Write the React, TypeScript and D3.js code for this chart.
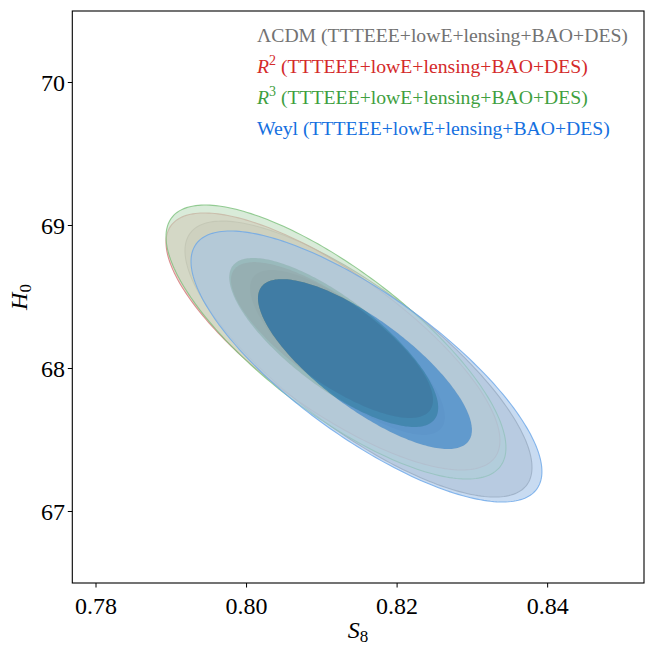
import React from 'react';
import * as d3 from 'd3';

const W = 645;
const H = 646;
const plot = { left: 72.3, right: 644, top: 11, bottom: 583 };

const xDomain = [0.77685, 0.8528];
const yDomain = [66.5, 70.5];
const xTicks = [0.78, 0.8, 0.82, 0.84];
const yTicks = [67, 68, 69, 70];

// Models, drawn in this order (last on top)
const models = ['LCDM', 'R2', 'R3', 'Weyl'];
const legendSuffix = ' (TTTEEE+lowE+lensing+BAO+DES)';
const textColors = ['#727272', '#d42a2a', '#3f9f3f', '#1570e0'];
const darkFill = ['#646464', '#c83c3c', '#50a050', '#1975d7'];
const lightFill = ['#bebebe', '#ebafaf', '#c0dec0', '#a3c3e8'];
const lineColors = ['#8a8a8a', '#d27a7a', '#7cc07c', '#6aa6e8'];

// Credible-region ellipses: model, level, centre (S8, H0), half-extent (S8, H0), correlation
const contourModel = ['LCDM', 'LCDM', 'R2', 'R2', 'R3', 'R3', 'Weyl', 'Weyl'];
const contourLevel = [95, 68, 95, 68, 95, 68, 95, 68];
const centreS8 = [0.81487, 0.81341, 0.81148, 0.81135, 0.81188, 0.81158, 0.81593, 0.81573];
const centreH0 = [68.066, 68.112, 68.189, 68.199, 68.185, 68.182, 68.014, 68.031];
const spanS8 = [0.02305, 0.01295, 0.02218, 0.01342, 0.02258, 0.01388, 0.02331, 0.01421];
const spanH0 = [0.965, 0.577, 0.8986, 0.545, 0.958, 0.591, 0.9476, 0.594];
const corr = [-0.785, -0.78, -0.77, -0.77, -0.77, -0.77, -0.775, -0.775];

const x = d3.scaleLinear().domain(xDomain).range([plot.left, plot.right]);
const y = d3.scaleLinear().domain(yDomain).range([plot.bottom, plot.top]);

const N = 240;
function ellipsePoints(i: number): [number, number][] {
  const r = corr[i];
  const q = Math.sqrt(1 - r * r);
  return d3.range(N).map((k) => {
    const t = (2 * Math.PI * k) / N;
    const s8 = centreS8[i] + spanS8[i] * Math.cos(t);
    const h0 = centreH0[i] + spanH0[i] * (r * Math.cos(t) + q * Math.sin(t));
    return [s8, h0];
  });
}

const line = d3
  .line<[number, number]>()
  .x((d) => x(d[0]))
  .y((d) => y(d[1]))
  .curve(d3.curveLinearClosed);

function findContour(m: string, level: number) {
  return contourModel.findIndex((c, i) => c === m && contourLevel[i] === level);
}

const serif = '"Liberation Serif", "Times New Roman", Times, serif';

export default function App() {
  return (
    <svg width={W} height={H} style={{ display: 'block', position: 'absolute', left: 0, top: 0 }}>
      <rect width={W} height={H} fill="#ffffff" />
      <defs>
        <clipPath id="plotArea">
          <rect x={plot.left} y={plot.top} width={plot.right - plot.left} height={plot.bottom - plot.top} />
        </clipPath>
      </defs>
      <g clipPath="url(#plotArea)">
        {models.map((m, mi) => {
          const outer = findContour(m, 95);
          const inner = findContour(m, 68);
          const outerPath = line(ellipsePoints(outer)) as string;
          const innerPath = line(ellipsePoints(inner)) as string;
          return (
            <g key={m}>
              <path d={outerPath + innerPath} fill={lightFill[mi]} fillOpacity={0.6} fillRule="evenodd" />
              <path d={innerPath} fill={darkFill[mi]} fillOpacity={0.6} />
              <path d={outerPath} fill="none" stroke={lineColors[mi]} strokeWidth={1.1} strokeOpacity={0.8} />
            </g>
          );
        })}
      </g>

      {/* frame */}
      <rect
        x={plot.left}
        y={plot.top}
        width={plot.right - plot.left}
        height={plot.bottom - plot.top}
        fill="none"
        stroke="#000"
        strokeWidth={1.1}
      />

      {/* x axis */}
      {xTicks.map((t) => (
        <g key={'x' + t}>
          <line x1={x(t)} x2={x(t)} y1={plot.bottom} y2={plot.bottom + 4.5} stroke="#000" strokeWidth={1} />
          <text x={x(t)} y={614} textAnchor="middle" fontFamily={serif} fontSize={24} fill="#000">
            {t.toFixed(2)}
          </text>
        </g>
      ))}
      {/* y axis */}
      {yTicks.map((t) => (
        <g key={'y' + t}>
          <line x1={plot.left - 4.5} x2={plot.left} y1={y(t)} y2={y(t)} stroke="#000" strokeWidth={1} />
          <text x={65} y={y(t) + 8} textAnchor="end" fontFamily={serif} fontSize={24} fill="#000">
            {t}
          </text>
        </g>
      ))}

      <text x={358} y={638} textAnchor="middle" fontFamily={serif} fontSize={24} fill="#000">
        <tspan fontStyle="italic">S</tspan>
        <tspan fontSize={17} dy={4}>8</tspan>
      </text>
      <text transform="translate(27,297) rotate(-90)" textAnchor="middle" fontFamily={serif} fontSize={24} fill="#000">
        <tspan fontStyle="italic">H</tspan>
        <tspan fontSize={17} dy={4}>0</tspan>
      </text>

      {/* legend */}
      {models.map((m, mi) => (
        <text key={'lg' + m} x={257} y={42 + mi * 31} fontFamily={serif} fontSize={19.7} fill={textColors[mi]}>
          {m === 'LCDM' && <tspan>ΛCDM</tspan>}
          {m === 'R2' && (
            <>
              <tspan fontStyle="italic">R</tspan>
              <tspan fontSize={14} dy={-8}>2</tspan>
              <tspan dy={8}>{legendSuffix}</tspan>
            </>
          )}
          {m === 'R3' && (
            <>
              <tspan fontStyle="italic">R</tspan>
              <tspan fontSize={14} dy={-8}>3</tspan>
              <tspan dy={8}>{legendSuffix}</tspan>
            </>
          )}
          {m === 'Weyl' && <tspan>Weyl</tspan>}
          {(m === 'LCDM' || m === 'Weyl') && <tspan>{legendSuffix}</tspan>}
        </text>
      ))}
    </svg>
  );
}
